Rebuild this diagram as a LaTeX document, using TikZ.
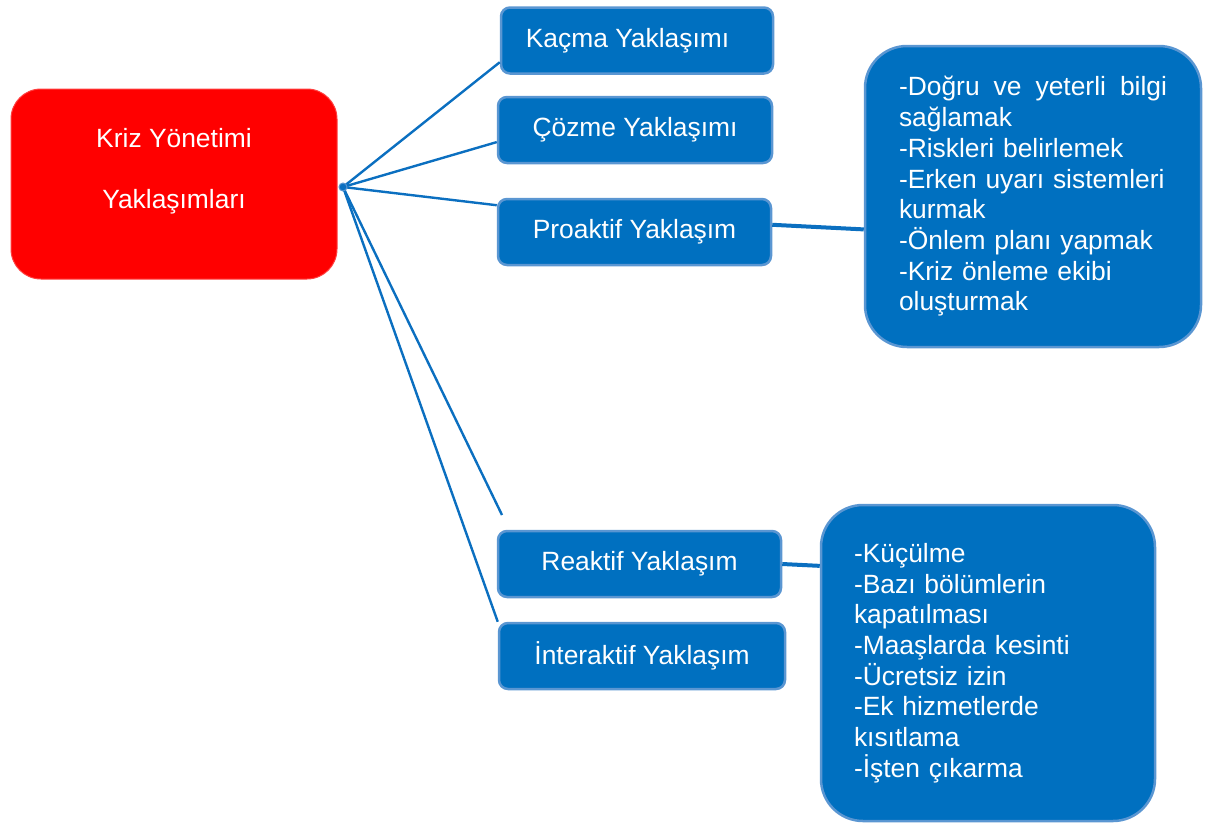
\documentclass[tikz,border=0pt]{standalone}
\usepackage{fontspec}
\setmainfont{Liberation Sans}
\usetikzlibrary{positioning}
\definecolor{boxblue}{HTML}{0070C0}
\definecolor{rimblue}{HTML}{5A96D2}
\definecolor{lineblue}{HTML}{0B6FC0}
\definecolor{rootred}{HTML}{FF0000}

\begin{document}
\begin{tikzpicture}[x=1pt, y=-1pt, every node/.style={text=white, inner sep=0pt, font=\fontsize{26.4}{30.7}\selectfont},
  approach/.style={draw=rimblue, line width=2.5pt, fill=boxblue, rounded corners=9pt, minimum height=66pt},
  detail/.style={draw=rimblue, line width=2.5pt, fill=boxblue, rounded corners=42pt, align=left, execute at begin node={\hyphenpenalty=10000}},
  link/.style={draw=lineblue, line width=2.4pt}, tie/.style={draw=lineblue, line width=4pt}]
\useasboundingbox (0,0) rectangle (1211,823);
\node (root) [fill=rootred, draw=red!75!white, line width=1pt, rounded corners=30pt, minimum width=326pt, minimum height=190pt, align=center] at (174,184) {Kriz Yönetimi\\\mbox{}\\Yaklaşımları\\\mbox{}};
\node (kacma) [approach, minimum width=272pt] at (637,40.5) {Kaçma Yaklaşımı\hspace*{19pt}};
\node (cozme) [approach, minimum width=274pt] at (635,130) {Çözme Yaklaşımı};
\node (proaktif) [approach, minimum width=273pt] at (634.5,232) {Proaktif Yaklaşım};
\node (reaktif) [approach, minimum width=283pt] at (639.5,564) {Reaktif Yaklaşım};
\node (interaktif) [approach, minimum width=286pt] at (642,656) {İnteraktif Yaklaşım};
\node (prevent) [detail, text width=268pt, minimum width=336pt, minimum height=301pt] at (1033,196.5) {-Doğru\hfill ve\hfill yeterli\hfill bilgi\\sağlamak\\-Riskleri belirlemek\\-Erken uyarı sistemleri\\kurmak\\-Önlem planı yapmak\\-Kriz önleme ekibi\\oluşturmak};
\node (react) [detail, text width=268pt, minimum width=334pt, minimum height=316pt] at (988,663) {-Küçülme\\-Bazı bölümlerin\\kapatılması\\-Maaşlarda kesinti\\-Ücretsiz izin\\-Ek hizmetlerde\\kısıtlama\\-İşten çıkarma};
\coordinate (rtip) at (502,515);
% spokes from the hub
\draw[link] (343,187) coordinate (hub) -- (kacma.189); \draw[link] (hub) -- (cozme.185); \draw[link] (hub) -- (proaktif.169);
\draw[link] (hub) -- (rtip); \draw[link] (hub) -- (interaktif.north west);
\draw[tie] (proaktif.3) -- (prevent.191); \draw[tie] (reaktif.east) -- (react.150);
\node (dot) [circle, fill=lineblue, draw=rimblue, line width=1pt, minimum size=8pt] at (hub) {};
\end{tikzpicture}
\end{document}
